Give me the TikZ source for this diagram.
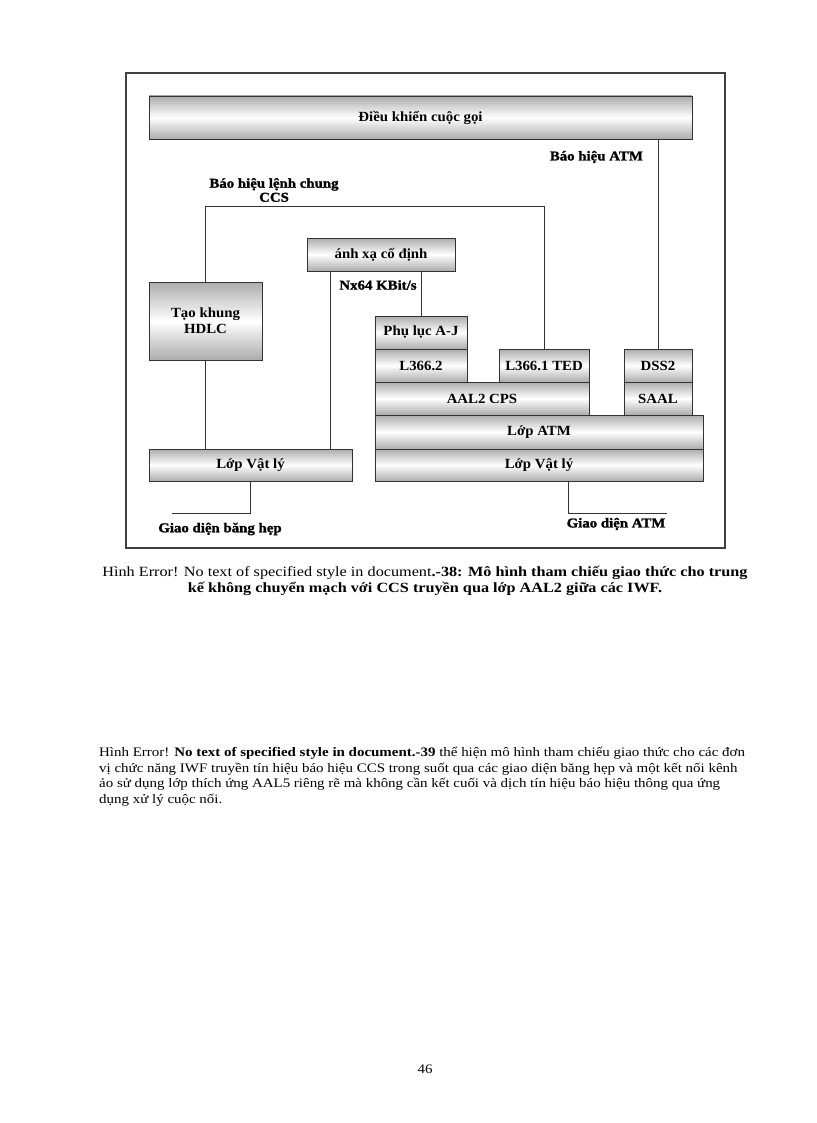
\documentclass[tikz,border=0pt]{standalone}
\usepackage{fontspec}
\setmainfont{Liberation Serif}
\newfontfamily\widefont[FakeStretch=1.15]{Liberation Serif}
\newfontfamily\boxfont[FakeStretch=1.06]{Liberation Serif}
\newfontfamily\sigfont[FakeStretch=1.1,FakeBold=1.5]{Liberation Serif}
\usetikzlibrary{positioning,calc}
\tikzset{
    every node/.style={font=\boxfont\fontsize{14}{16}\selectfont\bfseries},
    layer/.style={draw=black!80,top color=gray!65,bottom color=gray!65,middle color=white,inner sep=0pt,align=center},
    sig/.style={font=\sigfont\fontsize{13.5}{14}\selectfont\bfseries,inner sep=0pt,align=center},
    wire/.style={draw=black!80,line width=0.9pt},
    bodytext/.style={font=\widefont\fontsize{13}{15.5}\selectfont,inner sep=0pt},
    captext/.style={font=\widefont\fontsize{14.1}{15.5}\selectfont,inner sep=0pt}
}

\begin{document}
\begin{tikzpicture}[x=1pt,y=-1pt]
    \useasboundingbox (0,0) rectangle (816,1123);
    \fill[white] (0,0) rectangle (816,1123);
    % frame
    \draw[black!75,line width=1.4pt] (126,73) rectangle (725,548);

    % call control
    \node[layer,minimum width=543,minimum height=43] (ctrl) at (420.5,117.5) {Điều khiển cuộc gọi};

    % narrowband side
    \node[layer,minimum width=148,minimum height=33] (map) at (381,254.5) {ánh xạ cố định};
    \node[layer,minimum width=113,minimum height=78] (hdlc) at (205.5,321) {Tạo khung\\HDLC};
    \node[layer,minimum width=203,minimum height=32] (phyL) at (250.5,465) {Lớp Vật lý};

    % ATM side
    \node[layer,minimum width=92,minimum height=33] (phuluc) at (421,332.5) {Phụ lục A-J};
    \node[layer,minimum width=92,minimum height=33] (sscs) at (421,365.5) {L366.2};
    \node[layer,minimum width=90,minimum height=33] (ted) at (544,365.5) {L366.1 TED};
    \node[layer,minimum width=68,minimum height=33] (dss2) at (658,365.5) {DSS2};
    \node[layer,minimum width=214,minimum height=33] (cps) at (482,398.5) {AAL2 CPS};
    \node[layer,minimum width=68,minimum height=33] (saal) at (658,398.5) {SAAL};
    \node[layer,minimum width=328,minimum height=34] (atm) at (539,432) {Lớp ATM};
    \node[layer,minimum width=328,minimum height=32] (phyR) at (539,465) {Lớp Vật lý};

    % labels
    \node[sig,anchor=east] (atmsig) at (643,157) {Báo hiệu ATM};
    \node[sig] (ccssig) at (274,190) {Báo hiệu lệnh chung\\CCS};
    \node[sig] (rate) at (378,285) {Nx64 KBit/s};
    \node[sig] (nbif) at (220,529) {Giao diện băng hẹp};
    \node[sig] (atmif) at (616,524) {Giao diện ATM};

    % connectors
    \coordinate (ccsbend) at (206,206);
    \coordinate (nbend) at (172,513);
    \coordinate (atmend) at (667,513);
    \draw[wire] (ctrl.south -| dss2) -- (dss2.north);
    \draw[wire] (hdlc.north) -- (hdlc.north |- ccsbend) -| (ted.north);
    \draw[wire] (map.south -| phuluc) -- (phuluc.north);
    \draw[wire] ([xshift=-51]map.south) -- ([xshift=-51]map.south |- phyL.north);
    \draw[wire] (hdlc.south) -- (hdlc.south |- phyL.north);
    \draw[wire] (phyL.south) |- (nbend);
    \draw[wire] ([xshift=29]phyR.south) |- (atmend);

    % caption
    \node[captext,align=center] (cap) at (425,581) {Hình Error! No text of specified style in document\textbf{.-38: Mô hình tham chiếu giao thức cho trung}\\\textbf{kế không chuyển mạch với CCS truyền qua lớp AAL2 giữa các IWF.}};

    % paragraph
    \node[bodytext,align=left,anchor=north west] (para) at (99,747) {Hình Error! \textbf{No text of specified style in document.-39} thể hiện mô hình tham chiếu giao thức cho các đơn\\vị chức năng IWF truyền tín hiệu báo hiệu CCS trong suốt qua các giao diện băng hẹp và một kết nối kênh\\ảo sử dụng lớp thích ứng AAL5 riêng rẽ mà không cần kết cuối và dịch tín hiệu báo hiệu thông qua ứng\\dụng xử lý cuộc nối.};

    % page number
    \node[bodytext] (page) at (425,1069) {46};
\end{tikzpicture}
\end{document}
